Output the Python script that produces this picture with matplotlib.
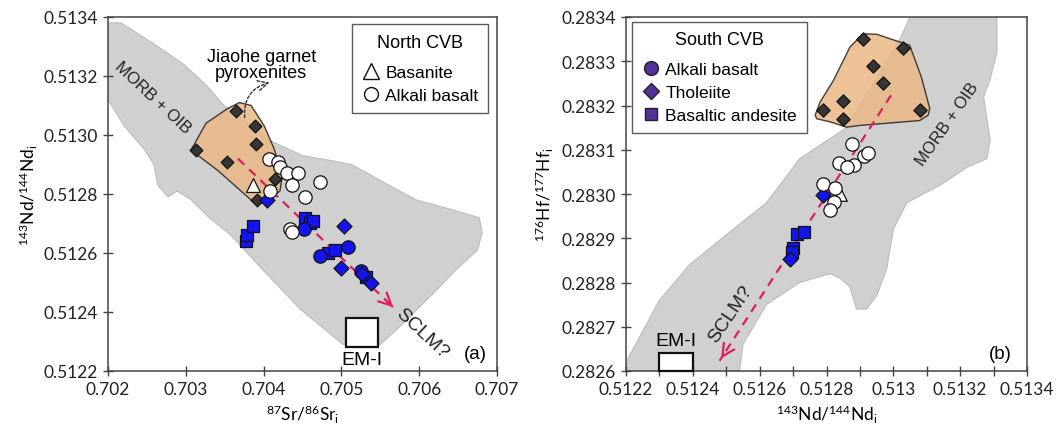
import matplotlib
matplotlib.use('Agg')
import matplotlib.pyplot as plt
from matplotlib.lines import Line2D
from matplotlib.patches import Polygon, Rectangle

plt.rcParams['font.family'] = ['Lato', 'DejaVu Sans']
plt.rcParams['mathtext.default'] = 'regular'

# ---- panel (a): 87Sr/86Sr vs 143Nd/144Nd ----
a_xlim = [0.702, 0.707]
a_ylim = [0.5122, 0.5134]
a_xticks = [0.702, 0.703, 0.704, 0.705, 0.706, 0.707]
a_xticklabels = ['0.702', '0.703', '0.704', '0.705', '0.706', '0.707']
a_yticks = [0.5122, 0.5124, 0.5126, 0.5128, 0.5130, 0.5132, 0.5134]
a_yticklabels = ['0.5122', '0.5124', '0.5126', '0.5128', '0.5130', '0.5132', '0.5134']

# MORB + OIB field
a_field_x = [0.70200, 0.70217, 0.70264, 0.70297, 0.70326, 0.70349, 0.70390, 0.70409,
             0.70450, 0.70494, 0.70513, 0.70554, 0.70596, 0.70638, 0.70677, 0.70681,
             0.70675, 0.70650, 0.70617, 0.70575, 0.70550, 0.70502, 0.70447, 0.70400,
             0.70358, 0.70330, 0.70307, 0.70289, 0.70277, 0.70264, 0.70259, 0.70247,
             0.70221, 0.70200]
a_field_y = [0.51338, 0.51338, 0.51330, 0.51324, 0.51317, 0.51310, 0.51302, 0.51298,
             0.51293, 0.51291, 0.51290, 0.51284, 0.51278, 0.51275, 0.51272, 0.51267,
             0.51261, 0.51255, 0.51246, 0.51235, 0.51229, 0.51229, 0.51241, 0.51254,
             0.51266, 0.51272, 0.51278, 0.51281, 0.51279, 0.51283, 0.51290, 0.51295,
             0.51303, 0.51312]

# Jiaohe garnet pyroxenites field and samples
a_jiaohe_x = [0.70307, 0.70326, 0.70354, 0.70369, 0.70384, 0.70401, 0.70414, 0.70424,
              0.70421, 0.70401, 0.70388, 0.70371, 0.70341, 0.70311]
a_jiaohe_y = [0.51295, 0.51304, 0.51309, 0.51311, 0.51310, 0.51303, 0.51295, 0.51286,
              0.51281, 0.51277, 0.51277, 0.51281, 0.51288, 0.51294]
a_pyrox_x = [0.70365, 0.70389, 0.70390, 0.70313, 0.70353, 0.70415, 0.70391]
a_pyrox_y = [0.51308, 0.51303, 0.51297, 0.51295, 0.51291, 0.51285, 0.51278]

# North CVB
a_nbas_x = [0.70387]
a_nbas_y = [0.51283]
a_nalk_x = [0.70407, 0.70419, 0.70421, 0.70430, 0.70444, 0.70436, 0.70472, 0.70453,
            0.70408, 0.70434, 0.70437]
a_nalk_y = [0.51292, 0.51291, 0.51289, 0.51287, 0.51287, 0.51283, 0.51284, 0.51279,
            0.51281, 0.51268, 0.51267]

# South CVB
a_salk_x = [0.70452, 0.70472, 0.70508, 0.70525]
a_salk_y = [0.51268, 0.51259, 0.51262, 0.51254]
a_thol_x = [0.70404, 0.70503, 0.70500, 0.70527, 0.70538]
a_thol_y = [0.51278, 0.51269, 0.51255, 0.51253, 0.51250]
a_band_x = [0.70377, 0.70379, 0.70386, 0.70453, 0.70460, 0.70463, 0.70483, 0.70492, 0.70531]
a_band_y = [0.51264, 0.51266, 0.51269, 0.51272, 0.51270, 0.51271, 0.51260, 0.51261, 0.51252]

a_sclm_start = [0.70367, 0.51292]
a_sclm_end = [0.70569, 0.51241]
a_em1 = [0.70506, 0.51228, 0.00041, 0.00010]  # x, y, width, height

# ---- panel (b): 143Nd/144Nd vs 176Hf/177Hf ----
b_xlim = [0.5122, 0.5134]
b_ylim = [0.2826, 0.2834]
b_xticks = [0.5122, 0.5124, 0.5126, 0.5128, 0.5130, 0.5132, 0.5134]
b_xticklabels = ['0.5122', '0.5124', '0.5126', '0.5128', '0.513', '0.5132', '0.5134']
b_xminor = [0.5123, 0.5125, 0.5127, 0.5129, 0.5131, 0.5133]
b_yticks = [0.2826, 0.2827, 0.2828, 0.2829, 0.2830, 0.2831, 0.2832, 0.2833, 0.2834]
b_yticklabels = ['0.2826', '0.2827', '0.2828', '0.2829', '0.2830', '0.2831', '0.2832',
                 '0.2833', '0.2834']

b_field_x = [0.51305, 0.51331, 0.51331, 0.51329, 0.51327, 0.51328, 0.51329, 0.51328,
             0.51322, 0.51314, 0.51304, 0.51300, 0.51298, 0.51295, 0.51292, 0.51289,
             0.51287, 0.51284, 0.51281, 0.51272, 0.51262, 0.51255, 0.51254, 0.51220,
             0.51220, 0.51230, 0.51239, 0.51252, 0.51262, 0.51272, 0.51286, 0.51302]
b_field_y = [0.28340, 0.28340, 0.28332, 0.28326, 0.28322, 0.28317, 0.28312, 0.28308,
             0.28306, 0.28302, 0.28298, 0.28292, 0.28283, 0.28277, 0.28274, 0.28274,
             0.28279, 0.28281, 0.28282, 0.28280, 0.28275, 0.28266, 0.28260, 0.28260,
             0.28262, 0.28276, 0.28284, 0.28292, 0.28298, 0.28308, 0.28315, 0.28335]

b_jiaohe_x = [0.512766, 0.512781, 0.512821, 0.51287, 0.51291, 0.51295, 0.513049, 0.513084,
              0.513109, 0.513104, 0.513079, 0.5129, 0.51286, 0.512811, 0.512771]
b_jiaohe_y = [0.283178, 0.283208, 0.283257, 0.283332, 0.283362, 0.283361, 0.283336, 0.283264,
              0.283193, 0.283178, 0.283166, 0.283155, 0.283151, 0.283163, 0.28317]
b_pyrox_x = [0.51291, 0.51303, 0.51294, 0.51297, 0.51285, 0.51279, 0.51285, 0.51308]
b_pyrox_y = [0.28335, 0.28333, 0.28329, 0.28325, 0.28321, 0.28319, 0.28317, 0.28319]

b_nbas_x = [0.512841]
b_nbas_y = [0.283000]
b_nalk_x = [0.512876, 0.512911, 0.512924, 0.512838, 0.512883, 0.512861, 0.512789,
            0.512824, 0.512823, 0.512809]
b_nalk_y = [0.283112, 0.283087, 0.283093, 0.283069, 0.283065, 0.283060, 0.283023,
            0.283014, 0.282983, 0.282963]
b_thol_x = [0.512789, 0.512691]
b_thol_y = [0.282998, 0.282852]
b_band_x = [0.512711, 0.512734, 0.512699, 0.512697]
b_band_y = [0.282909, 0.282913, 0.282879, 0.282868]

b_sclm_start = [0.512993, 0.283223]
b_sclm_end = [0.51248, 0.282623]
b_em1 = [0.5123, 0.2826, 0.0001, 0.00004]

grey = '#d0d0d0'
tan = '#e9b884'
blue = '#1414f0'
purple = '#55309a'
pink = '#dc1f63'
sans = ['Liberation Sans', 'DejaVu Sans']

fig = plt.figure(figsize=(10.56, 4.31), dpi=100)
ax1 = fig.add_axes([108 / 1056, 1 - 372 / 431, 389 / 1056, 354 / 431])
ax2 = fig.add_axes([626 / 1056, 1 - 372 / 431, 401 / 1056, 354 / 431])


def style_axes(ax):
    for sp in ax.spines.values():
        sp.set_color('#444444')
        sp.set_linewidth(1.1)
    ax.tick_params(which='both', direction='inout', length=7, width=1.0,
                   color='#444444', labelsize=12.5, labelcolor='#222222', pad=4)


def draw_points(ax, xs, ys, marker, face, size, z=4):
    ax.scatter(xs, ys, marker=marker, s=size, facecolor=face, edgecolor='#111111',
               linewidth=0.9, zorder=z)


def sclm_arrow(ax, start, end):
    ax.plot([start[0], end[0]], [start[1], end[1]], color=pink, lw=1.6,
            linestyle=(0, (4, 3)), zorder=3)
    ax.annotate('', xy=end, xytext=(start[0] + 0.97 * (end[0] - start[0]),
                                    start[1] + 0.97 * (end[1] - start[1])),
                arrowprops=dict(arrowstyle='->', color=pink, lw=1.6, mutation_scale=22),
                zorder=3)


def make_legend(ax, handles, title, loc, anchor):
    leg = ax.legend(handles=handles, title=title, loc=loc, bbox_to_anchor=anchor,
                    borderaxespad=0, frameon=True, fancybox=False, edgecolor='#333333',
                    handletextpad=0.3, handlelength=1.1, borderpad=0.55,
                    labelspacing=0.45, prop={'family': sans, 'size': 12.5})
    leg.get_title().set_fontfamily(sans)
    leg.get_title().set_fontsize(13)
    leg.get_frame().set_linewidth(1.0)
    leg._legend_box.sep = 10
    return leg


# panel (a)
ax1.add_patch(Polygon(list(zip(a_field_x, a_field_y)), closed=True, facecolor=grey,
                      edgecolor='#bdbdbd', lw=0.8, zorder=1))
ax1.add_patch(Polygon(list(zip(a_jiaohe_x, a_jiaohe_y)), closed=True, facecolor=tan,
                      edgecolor='#222222', lw=1.0, alpha=0.85, zorder=2))
ax1.add_patch(Rectangle((a_em1[0], a_em1[1]), a_em1[2], a_em1[3], facecolor='white',
                        edgecolor='#111111', lw=1.6, zorder=3))
sclm_arrow(ax1, a_sclm_start, a_sclm_end)
draw_points(ax1, a_pyrox_x, a_pyrox_y, 'D', '#363636', 42)
draw_points(ax1, a_band_x, a_band_y, 's', blue, 85)
draw_points(ax1, a_salk_x, a_salk_y, 'o', blue, 92)
draw_points(ax1, a_thol_x, a_thol_y, 'D', blue, 58)
draw_points(ax1, a_nalk_x, a_nalk_y, 'o', 'white', 92, z=5)
draw_points(ax1, a_nbas_x, a_nbas_y, '^', 'white', 100, z=5)

ax1.annotate('', xy=(0.70411, 0.51318), xytext=(0.70376, 0.51305),
             arrowprops=dict(arrowstyle='->', color='#333333', lw=1.0, linestyle=(0, (2, 1.5)),
                             connectionstyle='arc3,rad=-0.45', mutation_scale=18), zorder=6)
ax1.text(0.70397, 0.51324, 'Jiaohe garnet\npyroxenites', ha='center', va='center',
         fontsize=13, family=sans, linespacing=0.95)
ax1.text(0.70258, 0.51313, 'MORB + OIB', ha='center', va='center', rotation=-43,
         fontsize=12, family=sans, color='#222222')
ax1.text(0.70604, 0.51233, 'SCLM?', ha='center', va='center', rotation=-43,
         fontsize=14, family=sans, color='#222222')
ax1.text(0.70527, 0.51224, 'EM-I', ha='center', va='center', fontsize=14, family=sans)
ax1.text(0.70672, 0.51226, '(a)', ha='center', va='center', fontsize=13.5, family=sans)

ax1.set_xlim(a_xlim)
ax1.set_ylim(a_ylim)
ax1.set_xticks(a_xticks)
ax1.set_xticklabels(a_xticklabels)
ax1.set_yticks(a_yticks)
ax1.set_yticklabels(a_yticklabels)
ax1.set_xlabel(r'$^{87}$Sr/$^{86}$Sr$_{i}$', fontsize=12.5, labelpad=4)
ax1.set_ylabel(r'$^{143}$Nd/$^{144}$Nd$_{i}$', fontsize=12.5, labelpad=2)
style_axes(ax1)

north_handles = [
    Line2D([], [], marker='^', ls='', markersize=11.5, markerfacecolor='white',
           markeredgecolor='#111111', label='Basanite'),
    Line2D([], [], marker='o', ls='', markersize=10, markerfacecolor='white',
           markeredgecolor='#111111', label='Alkali basalt'),
]
make_legend(ax1, north_handles, 'North CVB', 'upper right', (0.977, 0.979))

# panel (b)
ax2.add_patch(Polygon(list(zip(b_field_x, b_field_y)), closed=True, facecolor=grey,
                      edgecolor='#bdbdbd', lw=0.8, zorder=1))
ax2.add_patch(Polygon(list(zip(b_jiaohe_x, b_jiaohe_y)), closed=True, facecolor=tan,
                      edgecolor='#222222', lw=1.0, alpha=0.85, zorder=2))
ax2.add_patch(Rectangle((b_em1[0], b_em1[1]), b_em1[2], b_em1[3], facecolor='white',
                        edgecolor='#111111', lw=1.6, zorder=3, clip_on=False))
sclm_arrow(ax2, b_sclm_start, b_sclm_end)
draw_points(ax2, b_pyrox_x, b_pyrox_y, 'D', '#363636', 46)
draw_points(ax2, b_band_x, b_band_y, 's', blue, 85)
draw_points(ax2, b_thol_x, b_thol_y, 'D', blue, 58)
draw_points(ax2, b_nbas_x, b_nbas_y, '^', 'white', 95, z=4)
draw_points(ax2, b_nalk_x, b_nalk_y, 'o', 'white', 92, z=5)

ax2.text(0.51316, 0.28316, 'MORB + OIB', ha='center', va='center', rotation=55,
         fontsize=12, family=sans, color='#222222')
ax2.text(0.512514, 0.282729, 'SCLM?', ha='center', va='center', rotation=56,
         fontsize=14, family=sans, color='#222222')
ax2.text(0.51235, 0.28267, 'EM-I', ha='center', va='center', fontsize=14, family=sans)
ax2.text(0.51332, 0.28264, '(b)', ha='center', va='center', fontsize=13.5, family=sans)

ax2.set_xlim(b_xlim)
ax2.set_ylim(b_ylim)
ax2.set_xticks(b_xticks)
ax2.set_xticklabels(b_xticklabels)
ax2.set_xticks(b_xminor, minor=True)
ax2.set_yticks(b_yticks)
ax2.set_yticklabels(b_yticklabels)
ax2.set_xlabel(r'$^{143}$Nd/$^{144}$Nd$_{i}$', fontsize=12.5, labelpad=4)
ax2.set_ylabel(r'$^{176}$Hf/$^{177}$Hf$_{i}$', fontsize=12.5, labelpad=4)
style_axes(ax2)

south_handles = [
    Line2D([], [], marker='o', ls='', markersize=10, markerfacecolor=purple,
           markeredgecolor='#222222', label='Alkali basalt'),
    Line2D([], [], marker='D', ls='', markersize=8.5, markerfacecolor=purple,
           markeredgecolor='#222222', label='Tholeiite'),
    Line2D([], [], marker='s', ls='', markersize=9, markerfacecolor=purple,
           markeredgecolor='#222222', label='Basaltic andesite'),
]
make_legend(ax2, south_handles, 'South CVB', 'upper left', (0.014, 0.987))

fig.savefig('out.png', dpi=100)
